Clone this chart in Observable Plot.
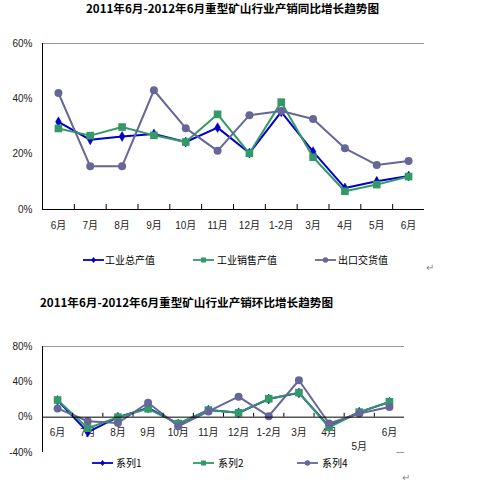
<!DOCTYPE html>
<html><head><meta charset="utf-8">
<script src="https://cdn.jsdelivr.net/npm/d3@7"></script>
<script src="https://cdn.jsdelivr.net/npm/@observablehq/plot@0.6"></script>
<style>
body{margin:0;background:#fff;}
#wrap{position:relative;width:500px;height:485px;overflow:hidden;font-family:"Noto Sans CJK SC",sans-serif;}
.abs{position:absolute;}
.title{font-weight:700;font-size:11.6px;white-space:nowrap;color:#000;line-height:1;letter-spacing:0px;}
.leg{font-size:10px;line-height:1;white-space:nowrap;color:#000;}
.pm{font-size:10px;color:#888;line-height:1;}
</style></head><body><div id="wrap"></div>
<script>
// ---- data ----
const months = ["6月","7月","8月","9月","10月","11月","12月","1-2月","3月","4月","5月","6月"];
const title1 = "2011年6月-2012年6月重型矿山行业产销同比增长趋势图";
const title2 = "2011年6月-2012年6月重型矿山行业产销环比增长趋势图";
const names1 = ["工业总产值","工业销售产值","出口交货值"];
const names2 = ["系列1","系列2","系列4"];
const yoyTotal  = [31.7,25.2,26.4,27.3,24.4,29.6,20.4,35.3,20.9,7.8,10.2,12.1];
const yoySales  = [29.3,26.7,29.8,26.8,24.4,34.4,20.3,38.8,18.9,6.6,9.0,11.9];
const yoyExport = [42.1,15.6,15.6,43.1,29.4,21.2,34.1,35.6,32.7,22.1,16.1,17.5];
const momS1 = [19.0,-17.0,0.0,10.5,-7.6,8.0,5.0,20.5,27.5,-10.5,5.7,17.0];
const momS2 = [19.4,-12.5,0.0,9.5,-7.2,8.0,4.9,20.9,27.8,-11.4,5.7,17.5];
const momS4 = [9.9,-4.6,-6.5,16.3,-10.3,6.5,23.2,1.1,41.8,-7.2,4.2,11.4];
const yTicks1 = [0,20,40,60];
const yTicks2 = [-40,0,40,80];

const blue = "#0000cc", green = "#339966", gray = "#666699";
const idx = d3.range(12);
const rows = arr => arr.map((v,i)=>({i, v}));
const bounds = d3.range(1,12).map(k=>k-0.5);
const wrap = document.getElementById("wrap");

function place(el, left, top){ el.classList.add("abs"); el.style.left=left+"px"; el.style.top=top+"px"; wrap.appendChild(el); return el; }
function div(cls, text){ const d=document.createElement("div"); d.className=cls; d.textContent=text; return d; }

function seriesMarks(a,b,c){
  return [
    Plot.line(rows(a),{x:"i",y:"v",stroke:blue,strokeWidth:2}),
    Plot.dot(rows(a),{x:"i",y:"v",symbol:"diamond",r:3,fill:blue,stroke:blue,strokeWidth:0.5}),
    Plot.line(rows(b),{x:"i",y:"v",stroke:green,strokeWidth:2}),
    Plot.dot(rows(b),{x:"i",y:"v",symbol:"square",r:4.3,fill:green}),
    Plot.line(rows(c),{x:"i",y:"v",stroke:gray,strokeWidth:2}),
    Plot.dot(rows(c),{x:"i",y:"v",r:4,fill:gray})
  ];
}
const axStyle = {fontFamily:"'Liberation Sans', Arial, 'Noto Sans CJK SC', sans-serif", fontSize:"10px", color:"#222", background:"transparent"};

// ---- chart 1 ----
place(div("title", title1), 86, 3);
const c1 = Plot.plot({
  width:440, height:215, marginLeft:42, marginRight:16, marginTop:13, marginBottom:36,
  x:{type:"linear", domain:[-0.5,11.5], axis:null},
  y:{domain:[0,60], axis:null},
  style:axStyle,
  marks:[
    Plot.ruleY([60],{x1:-0.5,x2:11.5,stroke:"#999"}),
    Plot.ruleY([0],{x1:-0.5,x2:11.5,stroke:"#000"}),
    Plot.ruleX([-0.5],{y1:0,y2:60,stroke:"#000"}),
    Plot.ruleX(bounds,{y1:0,y2:1.8,stroke:"#000"}),
    Plot.axisY({ticks:yTicks1, tickFormat:d=>d+"%", tickSize:0, tickPadding:10, label:null}),
    Plot.axisX({ticks:idx, tickFormat:i=>months[i], tickSize:0, tickPadding:12, label:null}),
    ...seriesMarks(yoyTotal, yoySales, yoyExport)
  ]
});
place(c1, 0, 30);

// ---- legends ----
function legend(items, top){
  items.forEach(([name,color,sym,x0,tx])=>{
    const svg = d3.create("svg").attr("width",24).attr("height",10);
    svg.append("line").attr("x1",0).attr("x2",21).attr("y1",5).attr("y2",5).attr("stroke",color).attr("stroke-width",1.8);
    if(sym==="diamond") svg.append("path").attr("d","M10.5,2L13,5L10.5,8L8,5Z").attr("fill",color);
    else if(sym==="square") svg.append("rect").attr("x",8).attr("y",2.5).attr("width",5).attr("height",5).attr("fill",color);
    else svg.append("circle").attr("cx",10.5).attr("cy",5).attr("r",2.7).attr("fill",color);
    place(svg.node(), x0, top-5);
    place(div("leg", name), tx, top-5);
  });
}
legend([[names1[0],blue,"diamond",83,105],[names1[1],green,"square",193,217],[names1[2],gray,"circle",315,338]], 260);
place(div("pm","↵"), 426, 262);

// ---- chart 2 ----
place(div("title", title2), 40, 297);
const idxMain = idx.filter(i=>i!==10);
const c2 = Plot.plot({
  width:440, height:125, marginLeft:42, marginRight:36, marginTop:11, marginBottom:8,
  x:{type:"linear", domain:[-0.5,11.5], axis:null},
  y:{domain:[-40,80], axis:null},
  style:axStyle,
  marks:[
    Plot.ruleY([80],{x1:-0.5,x2:11.5,stroke:"#999"}),
    Plot.ruleY([-40],{x1:11.25,x2:11.5,stroke:"#999"}),
    Plot.ruleX([-0.5],{y1:-40,y2:80,stroke:"#000"}),
    Plot.axisY({ticks:yTicks2, tickFormat:d=>d+"%", tickSize:0, tickPadding:10, label:null}),
    Plot.text(idxMain,{x:d=>d, y:0, text:d=>months[d], dy:16}),
    Plot.text([10],{x:d=>d, y:0, text:d=>months[d], dy:30}),
    ...seriesMarks(momS1, momS2, momS4),
    Plot.ruleY([0],{x1:-0.5,x2:11.5,stroke:"#000"}),
    Plot.ruleX(bounds,{y1:0,y2:4.4,stroke:"#000"})
  ]
});
place(c2, 0, 335);

legend([[names2[0],blue,"diamond",92,116],[names2[1],green,"square",193,218],[names2[2],gray,"circle",297,322]], 463);
place(div("pm","↵"), 402, 472);
</script></body></html>
